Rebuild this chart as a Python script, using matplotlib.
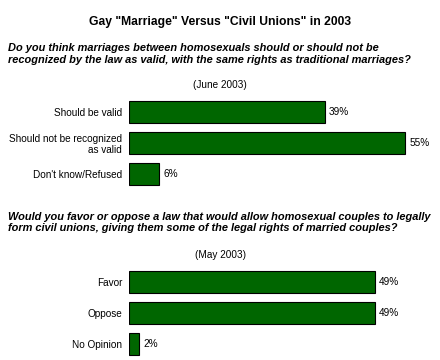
import matplotlib
matplotlib.use("Agg")
import matplotlib.pyplot as plt

plt.rcParams['font.family'] = ['Liberation Sans', 'DejaVu Sans']

title = 'Gay "Marriage" Versus "Civil Unions" in 2003'
q1 = ("Do you think marriages between homosexuals should or should not be\n"
      "recognized by the law as valid, with the same rights as traditional marriages?")
q1_date = "(June 2003)"
q1_labels = ["Should be valid", "Should not be recognized\nas valid", "Don't know/Refused"]
q1_values = [39, 55, 6]

q2 = ("Would you favor or oppose a law that would allow homosexual couples to legally\n"
      "form civil unions, giving them some of the legal rights of married couples?")
q2_date = "(May 2003)"
q2_labels = ["Favor", "Oppose", "No Opinion"]
q2_values = [49, 49, 2]

W, H = 440, 360
fig = plt.figure(figsize=(W / 100, H / 100), dpi=100)
fig.patch.set_facecolor('white')

def px(x, y):
    return x / W, 1 - y / H

fig.text(*px(220, 22), title, ha='center', va='center', fontsize=8.7, fontweight='bold')
fig.text(*px(8, 54), q1, ha='left', va='center', fontsize=7.9, fontweight='bold',
         fontstyle='italic', linespacing=1.2)
fig.text(*px(220, 85), q1_date, ha='center', va='center', fontsize=7.2)
fig.text(*px(8, 222.5), q2, ha='left', va='center', fontsize=7.9, fontweight='bold',
         fontstyle='italic', linespacing=1.2)
fig.text(*px(220, 255), q2_date, ha='center', va='center', fontsize=7.2)

ppu = 5.02
xmax = 60
left_px = 129

def make_axes(top_px, labels, values):
    h = 93
    ax = fig.add_axes([left_px / W, 1 - (top_px + h) / H, xmax * ppu / W, h / H])
    ys = list(range(len(values)))
    ax.barh(ys, values, height=22 / 31, color='#006600', edgecolor='black', linewidth=0.8)
    ax.set_xlim(0, xmax)
    ax.set_ylim(len(values) - 0.5, -0.5)
    for y, v in zip(ys, values):
        ax.text(v + 0.8, y, f"{v}%", ha='left', va='center', fontsize=7.2)
    ax.set_yticks(ys)
    ax.set_yticklabels(labels, fontsize=7.2, linespacing=1.1)
    ax.tick_params(axis='y', length=0, pad=5)
    ax.set_xticks([])
    for s in ax.spines.values():
        s.set_visible(False)
    for t in ax.get_yticklabels():
        t.set_horizontalalignment('right')
    return ax

make_axes(96.8, q1_labels, q1_values)
make_axes(266.7, q2_labels, q2_values)

fig.savefig("out.png", dpi=100, facecolor='white')
